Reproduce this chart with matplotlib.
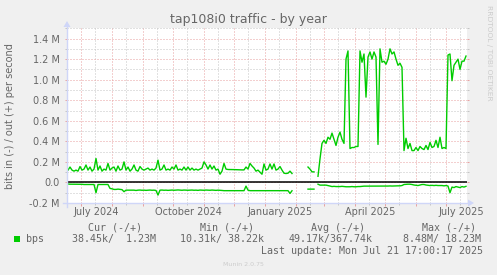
import numpy as np
import pandas as pd
import matplotlib
matplotlib.use('Agg')
import matplotlib.pyplot as plt
import matplotlib.dates as mdates
from matplotlib.lines import Line2D
from matplotlib.patches import Polygon, Rectangle
from matplotlib.ticker import MultipleLocator, FuncFormatter, NullFormatter

nan = np.nan

# 2-day samples, values in Mbit/s
dates = pd.date_range('2024-06-17 17:00', periods=200, freq='2D')

out_mbps = [
    0.12, 0.15, 0.12, 0.11, 0.12, 0.11, 0.155, 0.12, 0.13, 0.17,
    0.12, 0.15, 0.11, 0.13, 0.233, 0.12, 0.16, 0.11, 0.13, 0.12,
    0.185, 0.12, 0.14, 0.15, 0.11, 0.16, 0.12, 0.13, 0.20, 0.12,
    0.15, 0.11, 0.13, 0.17, 0.12, 0.11, 0.155, 0.13, 0.12, 0.13,
    0.14, 0.12, 0.13, 0.12, 0.14, 0.217, 0.12, 0.13, 0.17, 0.12,
    0.13, 0.12, 0.15, 0.13, 0.17, 0.12, 0.13, 0.12, 0.15, 0.12,
    0.15, 0.12, 0.14, 0.12, 0.13, 0.12, 0.13, 0.14, 0.20, 0.17,
    0.13, 0.17, 0.13, 0.16, 0.12, 0.13, 0.08, 0.11, 0.185, 0.13,
    0.126, 0.126, 0.125, 0.125, 0.124, 0.124, 0.123, 0.122, 0.122, 0.15,
    0.13, 0.185, 0.16, 0.14, 0.11, 0.12, 0.10, 0.08, 0.18, 0.12,
    0.13, 0.18, 0.13, 0.18, 0.12, 0.13, 0.155, 0.12, 0.09, 0.087,
    0.09, 0.11, 0.087, nan, nan, nan, nan, nan, nan, nan,
    0.15, 0.13, 0.103, 0.103, nan, 0.06, 0.23, 0.38, 0.41, 0.38,
    0.44, 0.42, 0.48, 0.42, 0.36, 0.44, 0.49, 0.42, 0.38, 1.20,
    1.28, 0.33, 0.34, 0.34, 0.35, 0.35, 1.28, 1.17, 1.25, 0.83,
    1.22, 1.27, 1.20, 1.27, 1.22, 0.37, 1.30, 1.17, 1.18, 1.15,
    1.20, 1.30, 1.25, 1.27, 1.20, 1.14, 1.16, 1.12, 0.31, 0.43,
    0.33, 0.38, 0.31, 0.31, 0.34, 0.31, 0.35, 0.33, 0.32, 0.36,
    0.32, 0.39, 0.34, 0.35, 0.41, 0.34, 0.44, 0.33, 0.34, 0.33,
    1.24, 1.25, 0.99, 1.14, 1.17, 1.20, 1.10, 1.18, 1.18, 1.23,
]

in_mbps = [
    0.015, 0.017, 0.017, 0.017, 0.017, 0.017, 0.017, 0.018, 0.02, 0.02,
    0.02, 0.02, 0.02, 0.02, 0.10, 0.02, 0.02, 0.02, 0.02, 0.02,
    0.02, 0.058, 0.062, 0.068, 0.068, 0.065, 0.068, 0.07, 0.09, 0.075,
    0.075, 0.074, 0.076, 0.075, 0.078, 0.075, 0.074, 0.076, 0.075, 0.077,
    0.075, 0.074, 0.076, 0.075, 0.078, 0.123, 0.075, 0.074, 0.076, 0.075,
    0.077, 0.075, 0.074, 0.076, 0.075, 0.073, 0.075, 0.076, 0.074, 0.075,
    0.076, 0.075, 0.074, 0.076, 0.075, 0.077, 0.074, 0.075, 0.076, 0.074,
    0.075, 0.076, 0.074, 0.075, 0.077, 0.075, 0.076, 0.078, 0.08, 0.08,
    0.08, 0.08, 0.08, 0.079, 0.08, 0.08, 0.081, 0.08, 0.08, 0.036,
    0.075, 0.08, 0.08, 0.08, 0.08, 0.08, 0.08, 0.081, 0.08, 0.08,
    0.08, 0.08, 0.081, 0.08, 0.08, 0.08, 0.08, 0.08, 0.08, 0.08,
    0.08, 0.107, 0.081, nan, nan, nan, nan, nan, nan, nan,
    0.065, 0.065, 0.065, 0.065, nan, 0.017, 0.026, 0.026, 0.026, 0.026,
    0.03, 0.035, 0.04, 0.038, 0.04, 0.04, 0.04, 0.038, 0.04, 0.042,
    0.042, 0.042, 0.04, 0.042, 0.042, 0.04, 0.04, 0.038, 0.036, 0.036,
    0.036, 0.036, 0.035, 0.036, 0.035, 0.036, 0.035, 0.035, 0.036, 0.035,
    0.035, 0.034, 0.035, 0.034, 0.033, 0.033, 0.033, 0.03, 0.02, 0.018,
    0.017, 0.017, 0.02, 0.025, 0.028, 0.03, 0.025, 0.02, 0.02, 0.025,
    0.028, 0.03, 0.028, 0.03, 0.028, 0.03, 0.03, 0.03, 0.033, 0.03,
    0.035, 0.10, 0.045, 0.05, 0.04, 0.045, 0.05, 0.04, 0.045, 0.038,
]

x_labels = ['July 2024', 'October 2024', 'January 2025', 'April 2025', 'July 2025']
x_label_dates = ['2024-07-16', '2024-10-16', '2025-01-16', '2025-04-16', '2025-07-16']

legend_headers = ['Cur (-/+)', 'Min (-/+)', 'Avg (-/+)', 'Max (-/+)']
legend_values = ['38.45k/  1.23M', '10.31k/ 38.22k', '49.17k/367.74k', '8.48M/ 18.23M']
last_update = 'Last update: Mon Jul 21 17:00:17 2025'

# munin / rrdtool look
W, H = 497, 275
BACK = '#F0F0F0'
FONT = '#666666'
AXIS = '#CFD6F8'
MGRID = '#E8A0A0'
GRID = '#C4C4C4'
GREEN = '#00CC00'


def fx(x):
    return x / W


def fy(y):
    return 1 - y / H


fig = plt.figure(figsize=(W / 100, H / 100), dpi=100, facecolor=BACK)
ax = fig.add_axes([fx(67), fy(203), 400 / W, 174.7 / H], facecolor='white')

ax.plot(dates, out_mbps, color=GREEN, lw=1.0, zorder=3)
ax.plot(dates, -np.array(in_mbps), color=GREEN, lw=1.0, zorder=3)
ax.axhline(0, color='black', lw=1.1, zorder=4)

ax.set_xlim(pd.Timestamp('2024-06-16 17:00'), pd.Timestamp('2025-07-21 17:00'))
ax.set_ylim(-0.2, 1.5)

ax.xaxis.set_major_locator(mdates.MonthLocator(bymonthday=1))
ax.xaxis.set_minor_locator(mdates.MonthLocator(bymonthday=15))
ax.xaxis.set_major_formatter(NullFormatter())
ax.xaxis.set_minor_formatter(NullFormatter())

ax.yaxis.set_major_locator(MultipleLocator(0.2))
ax.yaxis.set_minor_locator(MultipleLocator(0.1))
ax.yaxis.set_major_formatter(FuncFormatter(
    lambda v, p: '0.0' if abs(v) < 1e-9 else f'{v:.1f} M'))

# dotted grid, rrdtool style
ax.set_axisbelow(True)
ax.grid(which='minor', color=GRID, lw=0.72, linestyle=(0, (1, 2)))
ax.grid(which='major', color=MGRID, lw=0.72, linestyle=(0, (1, 2)))

for s in ax.spines.values():
    s.set_visible(False)

ax.tick_params(axis='y', which='major', direction='out', length=1.6, width=0.7,
               color=MGRID, left=True, right=True, labelcolor=FONT,
               labelsize=7, pad=3.6)
ax.tick_params(axis='y', which='minor', direction='out', length=1.4, width=0.7,
               color=GRID, left=True, right=True)
ax.tick_params(axis='x', which='major', direction='out', length=2.2, width=0.7,
               color=MGRID)
ax.tick_params(axis='x', which='minor', direction='out', length=1.4, width=0.7,
               color=GRID)

# month labels sit mid-month like rrdtool does
for lab, d in zip(x_labels, x_label_dates):
    ax.text(pd.Timestamp(d), -0.053, lab, transform=ax.get_xaxis_transform(),
            ha='center', va='center', fontsize=7, color=FONT)

# axes lines with arrows
fig.add_artist(Line2D([fx(63), fx(469)], [fy(203), fy(203)], color=AXIS, lw=1.0, zorder=5))
fig.add_artist(Line2D([fx(67), fx(67)], [fy(207), fy(26)], color=AXIS, lw=1.0, zorder=5))
fig.add_artist(Polygon([(fx(468), fy(199.5)), (fx(474), fy(203)), (fx(468), fy(206.5))],
                       closed=True, color=AXIS, lw=0, zorder=5))
fig.add_artist(Polygon([(fx(63.5), fy(27)), (fx(67), fy(21)), (fx(70.5), fy(27))],
                       closed=True, color=AXIS, lw=0, zorder=5))

fig.text(0.5, fy(19), 'tap108i0 traffic - by year', ha='center', va='center',
         fontsize=9, color=FONT)
fig.text(fx(10), fy(115.6), 'bits in (-) / out (+) per second', rotation=90,
         ha='center', va='center', fontsize=7, color=FONT)
fig.text(fx(488.5), fy(53), 'RRDTOOL / TOBI OETIKER', rotation=270,
         ha='center', va='center', fontsize=5.4, color='#CCCCCC')
fig.text(fx(243), fy(264), 'Munin 2.0.75', ha='center', va='center',
         fontsize=4.5, color='#CCCCCC')

# legend block (monospace like rrdtool)
mono = dict(family='DejaVu Sans Mono', fontsize=7.2, color=FONT, va='center', ha='left')
for txt, x in zip(legend_headers, [88.5, 199.5, 311, 422]):
    fig.text(fx(x), fy(227.7), txt, **mono)
fig.add_artist(Rectangle((fx(14), fy(242)), 6 / W, 6 / H, color=GREEN, lw=0))
fig.text(fx(26), fy(239.3), 'bps', **mono)
for txt, x in zip(legend_values, [72, 180, 288.7, 402.7]):
    fig.text(fx(x), fy(239.3), txt, **mono)
fig.text(fx(261), fy(251), last_update, **mono)

fig.savefig('out.png', dpi=100, facecolor=BACK)
